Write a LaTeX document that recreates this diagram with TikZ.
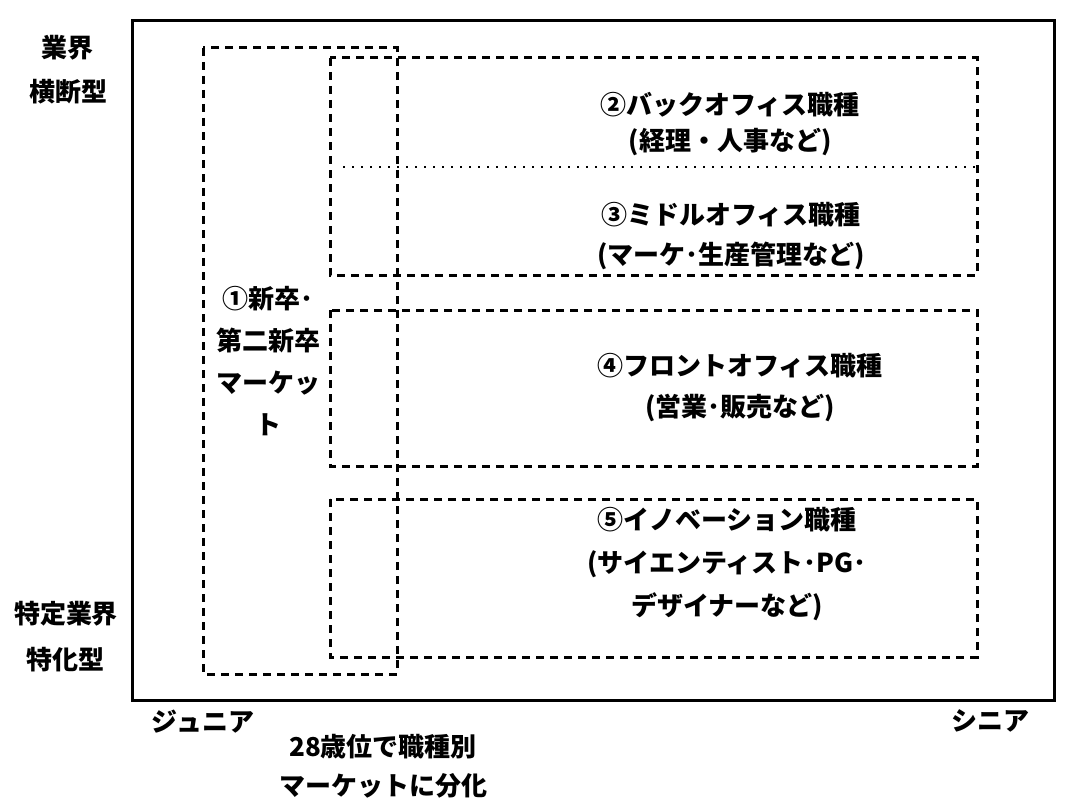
\documentclass[tikz,border=0pt]{standalone}
\usepackage{fontspec}
\newfontfamily\jp{Noto Sans CJK JP}
\tikzset{
  frame/.style={draw=black, line width=3pt},
  dbox/.style={draw=black, line width=3pt, dash pattern=on 8pt off 6pt},
  dotline/.style={draw=black, line width=2.4pt, dash pattern=on 2pt off 7pt},
  lbl/.style={font=\jp\bfseries\fontsize{26}{#1}\selectfont, align=center, inner sep=0pt, text=black},
  lbl/.default=42
}
\begin{document}
\begin{tikzpicture}[x=1pt,y=-1pt]
\useasboundingbox (0,0) rectangle (1080,808);
% frame
\draw[frame] (132,21) rectangle (1054,700);
% boxes
\draw[dbox] (330,58) rectangle (977,275);
\draw[dbox] (330,310) rectangle (977,466);
\draw[dbox] (330,499) rectangle (977,657);
\draw[dbox] (203,48) rectangle (397,674);
\coordinate (dl) at (343,167);
\coordinate (dr) at (975,167);
\draw[dotline] (dl) -- (dr);
% labels
\node[lbl=44] (yoko) at (68,70) {業界\\横断型};
\node[lbl=46] (toku) at (66,637) {特定業界\\特化型};
\node[lbl] (jun) at (203,722) {ジュニア};
\node[lbl] (sen) at (990,721) {シニア};
\node[lbl=39] (age) at (383,766) {28歳位で職種別\\マーケットに分化};
\node[lbl=42.3] (m1) at (268,361) {①新卒･\\第二新卒\\マーケッ\\ト};
\node[lbl=36] (m2) at (730,124) {②バックオフィス職種\\(経理・人事など)};
\node[lbl=40] (m3) at (731,236) {③ミドルオフィス職種\\(マーケ･生産管理など)};
\node[lbl=41] (m4) at (740,388) {④フロントオフィス職種\\(営業･販売など)};
\node[lbl=43] (m5) at (727,564) {⑤イノベーション職種\\(サイエンティスト･PG･\\デザイナーなど)};
\end{tikzpicture}
\end{document}
